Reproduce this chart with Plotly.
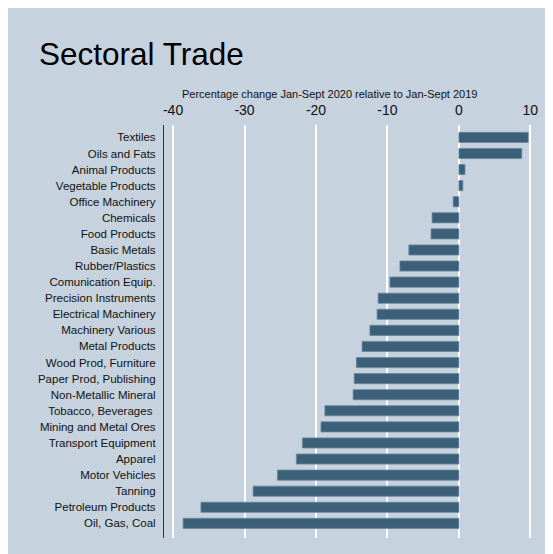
import plotly.graph_objects as go

sectors = [
    "Textiles", "Oils and Fats", "Animal Products", "Vegetable Products",
    "Office Machinery", "Chemicals", "Food Products", "Basic Metals",
    "Rubber/Plastics", "Comunication Equip.", "Precision Instruments",
    "Electrical Machinery", "Machinery Various", "Metal Products",
    "Wood Prod, Furniture", "Paper Prod, Publishing", "Non-Metallic Mineral",
    "Tobacco, Beverages ", "Mining and Metal Ores", "Transport Equipment",
    "Apparel", "Motor Vehicles", "Tanning", "Petroleum Products", "Oil, Gas, Coal",
]
pct_change = [
    9.7, 8.8, 0.85, 0.55, -0.8, -3.75, -3.9, -7.0, -8.25, -9.65, -11.3,
    -11.45, -12.45, -13.55, -14.35, -14.65, -14.8, -18.75, -19.3, -21.9,
    -22.75, -25.4, -28.8, -36.1, -38.6,
]
x_ticks = [-40, -30, -20, -10, 0, 10]
x_title = "Percentage change Jan-Sept 2020 relative to Jan-Sept 2019"

BG = "#c6d2de"
W, H = 553, 554
L, T, B, R = 156, 117, 24, 16
pw, ph = W - L - R, H - T - B

fig = go.Figure(go.Bar(
    x=pct_change, y=sectors, orientation="h", width=0.63,
    marker=dict(color="#3d6079", line=dict(color="#68879c", width=0.8)),
    hoverinfo="x+y",
))

fig.update_layout(
    width=W, height=H,
    margin=dict(l=L, r=R, t=T, b=B, pad=0),
    paper_bgcolor=BG, plot_bgcolor=BG,
    showlegend=False,
    font=dict(family="Liberation Sans, Arial, sans-serif", color="#111"),
    title=dict(text="Sectoral Trade", x=31 / W, xanchor="left", xref="container",
               y=1 - 46 / H, yanchor="middle", yref="container",
               font=dict(size=31.5, color="#000")),
    xaxis=dict(side="top", range=[-41.27, 12.05], tickvals=x_ticks,
               ticktext=[str(v) for v in x_ticks], showgrid=True,
               gridcolor="white", gridwidth=2, zeroline=False, showline=False,
               ticks="", ticklabelstandoff=6, tickfont=dict(size=14, color="#111")),
    yaxis=dict(categoryorder="array", categoryarray=sectors, range=[24.91, -0.77],
               showgrid=False, zeroline=False, showline=True, linecolor="#333",
               linewidth=1.2, ticks="", ticklabelstandoff=5,
               tickfont=dict(size=11.5, color="#111")),
    annotations=[dict(text=x_title, xref="paper", yref="paper",
                      x=(321 - L) / pw, y=1 + (T - 86) / ph,
                      xanchor="center", yanchor="middle", showarrow=False,
                      font=dict(size=11, color="#111"))],
)
fig.write_html("out.html")
